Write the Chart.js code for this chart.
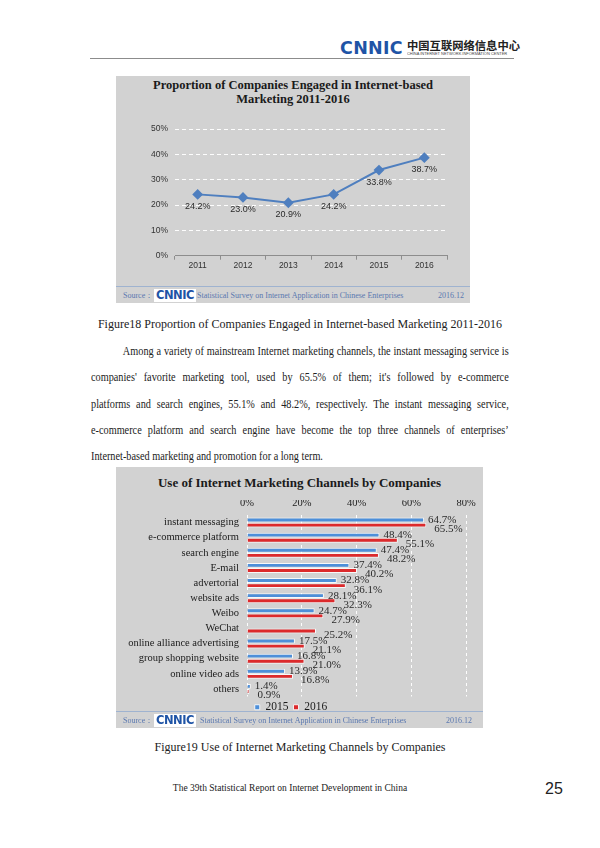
<!DOCTYPE html>
<html lang="en">
<head>
<meta charset="UTF-8">
<title>Internet-based Marketing</title>
<script src="https://cdn.jsdelivr.net/npm/chart.js"></script>
<style>
    body {
        margin: 0;
        width: 600px;
        height: 848px;
        background: #fff;
        position: relative;
        font-family: "Liberation Serif", serif;
        color: #222;
        overflow: hidden;
    }
    .abs { position: absolute; }
    .logo {
        font-family: "DejaVu Sans", sans-serif;
        font-weight: bold;
        color: #1f54a6;
        letter-spacing: -0.5px;
    }
    .box {
        position: absolute;
        background: #d2d2d2;
    }
    .box-title {
        position: absolute;
        left: 0; right: 0;
        text-align: center;
        font-weight: bold;
        font-size: 12.5px;
        line-height: 13.5px;
        color: #1a1a1a;
    }
    .source {
        position: absolute;
        left: 0; right: 0;
        height: 17px;
        border-top: 1px solid #9fb3d0;
        font-size: 8px;
        color: #5a78b0;
        line-height: 17px;
    }
    .source .src-logo {
        position: absolute;
        left: 38px; top: 2px;
        background: #fff;
        height: 13px;
        width: 42px;
        font-size: 11.5px;
        line-height: 13px;
        text-align: center;
    }
    .caption {
        position: absolute;
        left: 0; width: 600px;
        text-align: center;
        font-size: 12px;
    }
    /* the scanned page text is condensed, so the block is squeezed horizontally;
       lines are set one by one to keep the page's own breaks */
    .para {
        position: absolute;
        left: 91px; top: 339px;
        width: 472px;
        font-size: 11.6px;
        line-height: 26.3px;
        transform: scaleX(0.885);
        transform-origin: 0 0;
    }
    .para div {
        white-space: nowrap;
        text-align: justify;
        text-align-last: justify;
    }
    .para div.first { text-indent: 36px; }
    .para div.last { text-align-last: left; }
</style>
</head>
<body>

<!-- page header -->
<div class="abs logo" style="left:340px; top:38px; font-size:17.5px; letter-spacing:0.3px;">CNNIC</div>
<div class="abs" style="left:407px; top:37px; font-family:'Noto Sans CJK SC'; font-size:11.3px; font-weight:bold; color:#222;">中国互联网络信息中心</div>
<div class="abs" style="left:407px; top:51px; font-family:'Liberation Sans'; font-size:6px; color:#444; transform:scale(0.66,0.7); transform-origin:0 0; white-space:nowrap;">CHINA INTERNET NETWORK INFORMATION CENTER</div>
<div class="abs" style="left:90px; top:58px; width:424px; height:1px; background:#8c8c8c;"></div>

<!-- figure 18 -->
<div class="box" style="left:116px; top:76px; width:354px; height:227px;">
    <div class="box-title" style="top:3px;">Proportion of Companies Engaged in Internet-based<br>Marketing 2011-2016</div>
    <canvas id="shareChart" width="354" height="210" style="position:absolute; left:0; top:0; width:354px; height:210px;"></canvas>
    <div class="source" style="top:210px;">
        <span style="position:absolute; left:7px;">Source：</span>
        <span class="src-logo logo">CNNIC</span>
        <span style="position:absolute; left:81px;">Statistical Survey on Internet Application in Chinese Enterprises</span>
        <span style="position:absolute; right:6px;">2016.12</span>
    </div>
</div>

<div class="caption" style="top:317px;">Figure18 Proportion of Companies Engaged in Internet-based Marketing 2011-2016</div>

<div class="para">
    <div class="first">Among a variety of mainstream Internet marketing channels, the instant messaging service is</div>
    <div>companies' favorite marketing tool, used by 65.5% of them; it's followed by e-commerce</div>
    <div>platforms and search engines, 55.1% and 48.2%, respectively. The instant messaging service,</div>
    <div>e-commerce platform and search engine have become the top three channels of enterprises’</div>
    <div class="last">Internet-based marketing and promotion for a long term.</div>
</div>

<!-- figure 19 -->
<div class="box" style="left:116px; top:467px; width:367px; height:261px;">
    <div class="box-title" style="top:9px; font-size:13px;">Use of Internet Marketing Channels by Companies</div>
    <canvas id="channelChart" width="367" height="256" style="position:absolute; left:0; top:0; width:367px; height:256px;"></canvas>
    <div class="source" style="top:244px;">
        <span style="position:absolute; left:7px;">Source：</span>
        <span class="src-logo logo">CNNIC</span>
        <span style="position:absolute; left:84px;">Statistical Survey on Internet Application in Chinese Enterprises</span>
        <span style="position:absolute; right:11px;">2016.12</span>
    </div>
</div>

<div class="caption" style="top:740px;">Figure19 Use of Internet Marketing Channels by Companies</div>

<!-- page footer -->
<div class="abs" style="left:0; width:580px; top:783px; text-align:center; font-size:9.5px;">The 39th Statistical Report on Internet Development in China</div>
<div class="abs" style="left:545px; top:780px; font-family:'Liberation Sans'; font-size:16px;">25</div>

<script>
    // figure 18 data
    const years = ['2011', '2012', '2013', '2014', '2015', '2016'];
    const shareValues = [24.2, 23.0, 20.9, 24.2, 33.8, 38.7];
    const shareTicks = [0, 10, 20, 30, 40, 50];

    // figure 19 data
    const channels = [
        'instant messaging', 'e-commerce platform', 'search engine', 'E-mail',
        'advertorial', 'website ads', 'Weibo', 'WeChat',
        'online alliance advertising', 'group shopping website', 'online video ads', 'others'
    ];
    const use2015 = [64.7, 48.4, 47.4, 37.4, 32.8, 28.1, 24.7, null, 17.5, 16.8, 13.9, 1.4];
    const use2016 = [65.5, 55.1, 48.2, 40.2, 36.1, 32.3, 27.9, 25.2, 21.1, 21.0, 16.8, 0.9];
    const seriesNames = ['2015', '2016'];
    const channelTicks = [0, 20, 40, 60, 80];

    const pct = v => v.toFixed(1) + '%';

    // value under each point of the line
    const pointLabels = {
        id: 'pointLabels',
        afterDatasetsDraw(chart) {
            const ctx = chart.ctx;
            ctx.save();
            ctx.font = '9px "Liberation Sans"';
            ctx.fillStyle = '#2a2a2a';
            ctx.textAlign = 'center';
            ctx.textBaseline = 'middle';
            chart.getDatasetMeta(0).data.forEach((pt, i) => {
                ctx.fillText(pct(shareValues[i]), pt.x, pt.y + 12);
            });
            ctx.restore();
        }
    };

    new Chart(document.getElementById('shareChart'), {
        type: 'line',
        data: {
            labels: years,
            datasets: [{
                data: shareValues,
                borderColor: '#4f7fbf',
                backgroundColor: '#4f7fbf',
                borderWidth: 2,
                pointStyle: 'rectRot',
                pointRadius: 4,
                tension: 0,
                clip: false
            }]
        },
        options: {
            responsive: false,
            animation: false,
            layout: { padding: { top: 53, right: 23, left: 0, bottom: 0 } },
            plugins: { legend: { display: false }, tooltip: { enabled: false } },
            scales: {
                x: {
                    offset: true,
                    grid: { offset: true, drawOnChartArea: false, drawTicks: true, tickLength: 4, color: '#8d8d8d' },
                    border: { color: '#8d8d8d' },
                    ticks: { font: { family: 'Liberation Sans', size: 8.5 }, color: '#333', padding: 1 },
                    afterFit: s => { s.height = 30.3; }
                },
                y: {
                    min: 0, max: 50,
                    afterBuildTicks: s => { s.ticks = shareTicks.map(v => ({ value: v })); },
                    grid: { color: 'rgba(255,255,255,0.95)', drawTicks: false },
                    border: { display: false, dash: [4, 3] },
                    ticks: { font: { family: 'Liberation Sans', size: 8.5 }, color: '#333', padding: 7, callback: v => v + '%' },
                    afterFit: s => { s.width = 59; }
                }
            }
        },
        plugins: [pointLabels]
    });

    // value next to each bar, 2016 labels sit a bit lower and further right
    const barLabels = {
        id: 'barLabels',
        afterDatasetsDraw(chart) {
            const ctx = chart.ctx;
            ctx.save();
            ctx.font = '11px "Liberation Serif"';
            ctx.fillStyle = '#2a2a2a';
            ctx.textAlign = 'left';
            ctx.textBaseline = 'middle';
            [use2015, use2016].forEach((vals, d) => {
                chart.getDatasetMeta(d).data.forEach((bar, i) => {
                    if (vals[i] == null) return;
                    const dx = d === 0 ? 4 : 8;
                    const dy = d === 0 ? 0 : 4;
                    ctx.fillText(pct(vals[i]), bar.x + dx, bar.y + dy);
                });
            });
            ctx.restore();
        }
    };

    new Chart(document.getElementById('channelChart'), {
        type: 'bar',
        data: {
            labels: channels,
            datasets: [
                { label: seriesNames[0], data: use2015, backgroundColor: '#4d8fd9', borderColor: 'rgba(255,255,255,0.85)', borderWidth: 1 },
                { label: seriesNames[1], data: use2016, backgroundColor: '#dc2a2c', borderColor: 'rgba(255,255,255,0.85)', borderWidth: 1 }
            ]
        },
        options: {
            indexAxis: 'y',
            responsive: false,
            animation: false,
            categoryPercentage: 0.68,
            barPercentage: 0.96,
            layout: { padding: { top: 33, right: 17, left: 0, bottom: 0 } },
            plugins: {
                tooltip: { enabled: false },
                legend: {
                    position: 'bottom',
                    labels: {
                        boxWidth: 5, boxHeight: 5, padding: 5,
                        color: '#1a1a1a',
                        font: { family: 'Liberation Serif', size: 11.5 }
                    }
                }
            },
            scales: {
                x: {
                    position: 'top',
                    min: 0, max: 80,
                    afterBuildTicks: s => { s.ticks = channelTicks.map(v => ({ value: v })); },
                    grid: { color: 'rgba(255,255,255,0.95)', drawTicks: false },
                    border: { display: false, dash: [3, 3] },
                    ticks: { font: { family: 'Liberation Serif', size: 10.5 }, color: '#222', padding: 5, callback: v => v + '%' },
                    afterFit: s => { s.height = 15; }
                },
                y: {
                    grid: { display: false, drawTicks: false },
                    border: { display: false },
                    ticks: { font: { family: 'Liberation Serif', size: 10.5 }, color: '#1a1a1a', padding: 8, autoSkip: false },
                    afterFit: s => { s.width = 131; }
                }
            }
        },
        plugins: [barLabels]
    });
</script>
</body>
</html>
